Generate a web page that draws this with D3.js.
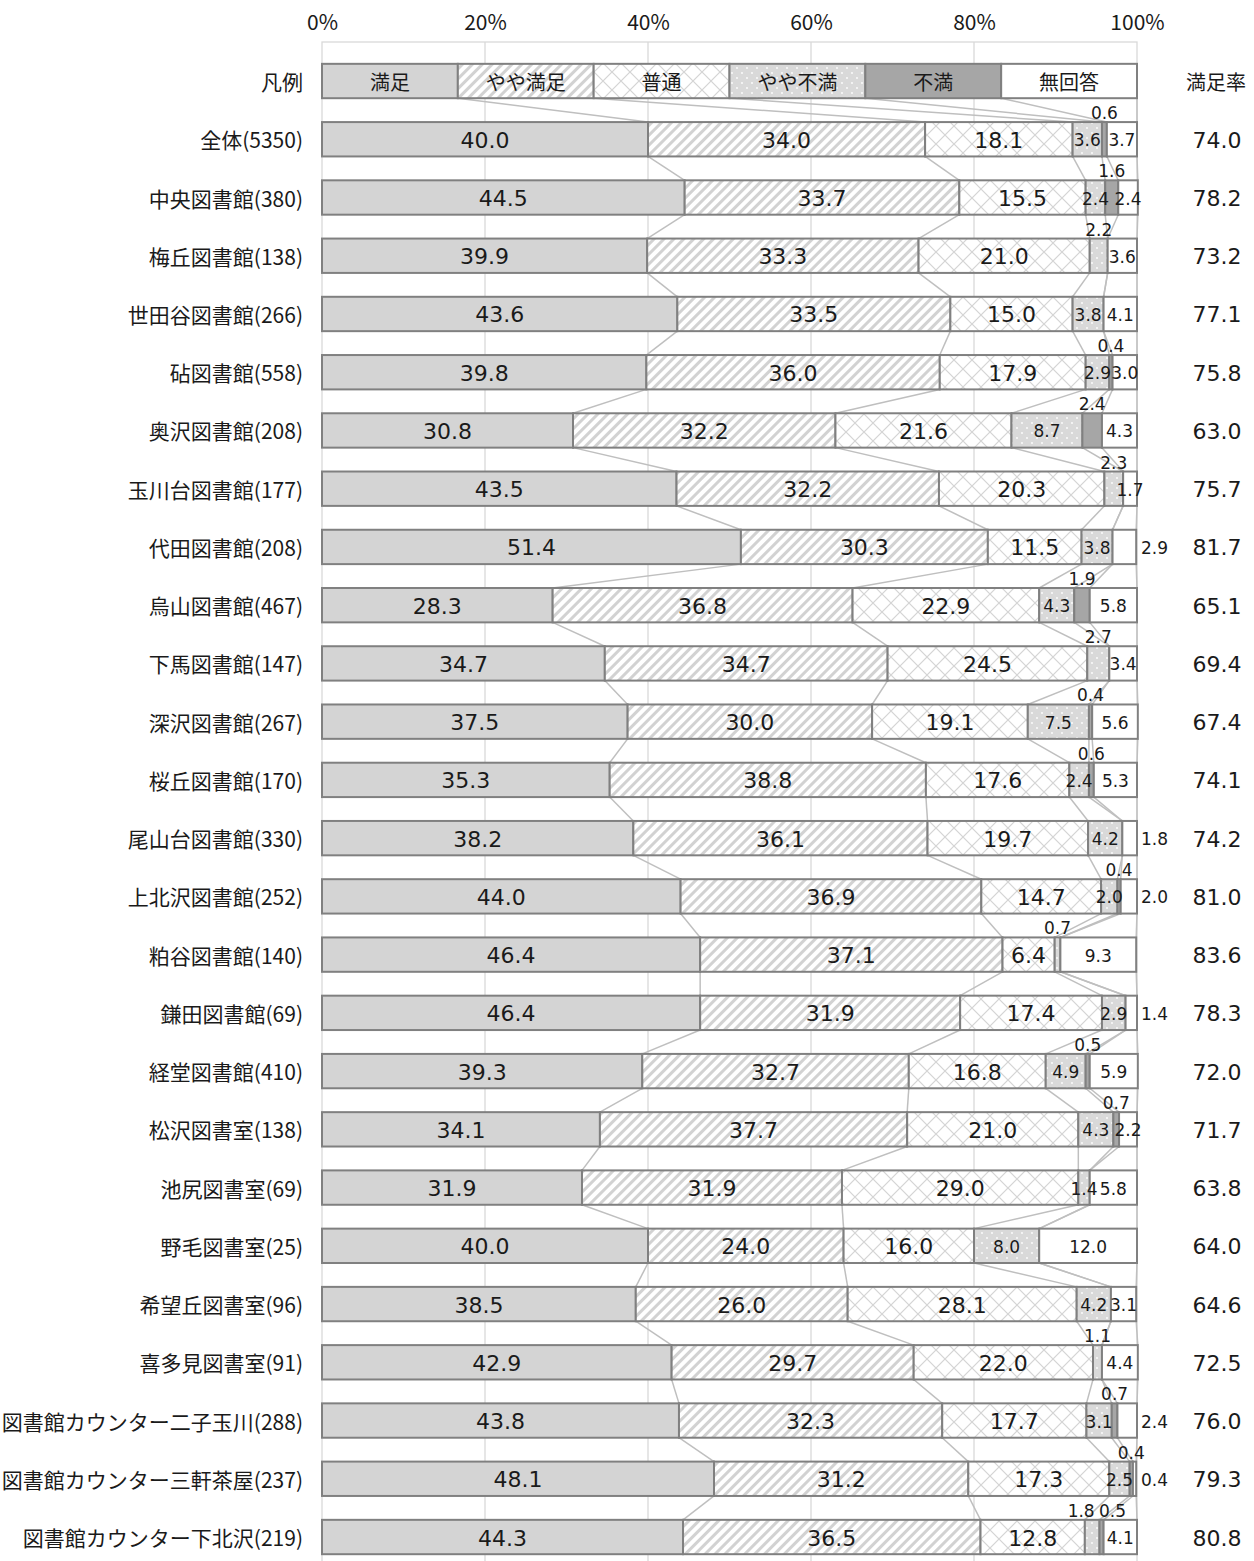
<!DOCTYPE html>
<html>
<head>
<meta charset="utf-8">
<script src="https://cdn.jsdelivr.net/npm/d3@7"></script>
<style>
  body { margin: 0; background: #fff; }
  .jp { font-family: "Noto Sans CJK JP", "Noto Sans", sans-serif; fill: #1a1a1a; }
  .num { font-family: "DejaVu Sans", Verdana, sans-serif; fill: #1a1a1a; }
</style>
</head>
<body>
<svg width="1254" height="1561"></svg>
<script>
// categories (top to bottom) and the six answer series, in %
var categories = ["全体(5350)", "中央図書館(380)", "梅丘図書館(138)", "世田谷図書館(266)", "砧図書館(558)",
  "奥沢図書館(208)", "玉川台図書館(177)", "代田図書館(208)", "烏山図書館(467)", "下馬図書館(147)",
  "深沢図書館(267)", "桜丘図書館(170)", "尾山台図書館(330)", "上北沢図書館(252)", "粕谷図書館(140)",
  "鎌田図書館(69)", "経堂図書館(410)", "松沢図書室(138)", "池尻図書室(69)", "野毛図書室(25)",
  "希望丘図書室(96)", "喜多見図書室(91)", "図書館カウンター二子玉川(288)", "図書館カウンター三軒茶屋(237)",
  "図書館カウンター下北沢(219)"];
var seriesNames = ["満足", "やや満足", "普通", "やや不満", "不満", "無回答"];

var manzoku      = [40.0, 44.5, 39.9, 43.6, 39.8, 30.8, 43.5, 51.4, 28.3, 34.7, 37.5, 35.3, 38.2, 44.0, 46.4, 46.4, 39.3, 34.1, 31.9, 40.0, 38.5, 42.9, 43.8, 48.1, 44.3];
var yayaManzoku  = [34.0, 33.7, 33.3, 33.5, 36.0, 32.2, 32.2, 30.3, 36.8, 34.7, 30.0, 38.8, 36.1, 36.9, 37.1, 31.9, 32.7, 37.7, 31.9, 24.0, 26.0, 29.7, 32.3, 31.2, 36.5];
var futsu        = [18.1, 15.5, 21.0, 15.0, 17.9, 21.6, 20.3, 11.5, 22.9, 24.5, 19.1, 17.6, 19.7, 14.7, 6.4, 17.4, 16.8, 21.0, 29.0, 16.0, 28.1, 22.0, 17.7, 17.3, 12.8];
var yayaFuman    = [3.6, 2.4, 2.2, 3.8, 2.9, 8.7, 2.3, 3.8, 4.3, 2.7, 7.5, 2.4, 4.2, 2.0, 0.7, 2.9, 4.9, 4.3, 1.4, 8.0, 4.2, 1.1, 3.1, 2.5, 1.8];
var fuman        = [0.6, 1.6, 0, 0, 0.4, 2.4, 0, 0, 1.9, 0, 0.4, 0.6, 0, 0.4, 0, 0, 0.5, 0.7, 0, 0, 0, 0, 0.7, 0.4, 0.5];
var mukaitou     = [3.7, 2.4, 3.6, 4.1, 3.0, 4.3, 1.7, 2.9, 5.8, 3.4, 5.6, 5.3, 1.8, 2.0, 9.3, 1.4, 5.9, 2.2, 5.8, 12.0, 3.1, 4.4, 2.4, 0.4, 4.1];
var satisfaction = [74.0, 78.2, 73.2, 77.1, 75.8, 63.0, 75.7, 81.7, 65.1, 69.4, 67.4, 74.1, 74.2, 81.0, 83.6, 78.3, 72.0, 71.7, 63.8, 64.0, 64.6, 72.5, 76.0, 79.3, 80.8];
var tickValues = [0, 20, 40, 60, 80, 100];

// labels of small segments that sit above the bar / right of the bar: [category, series]
var labelsAbove = [[0,4],[1,4],[2,3],[4,4],[5,4],[6,3],[8,4],[9,3],[10,4],[11,4],[13,4],[14,3],[16,4],[17,4],[21,3],[22,4],[23,4],[24,3],[24,4]];
var labelsRight = [[7,5],[12,5],[13,5],[15,5],[22,5],[23,5]];

var series = [manzoku, yayaManzoku, futsu, yayaFuman, fuman, mukaitou];

var svg = d3.select("svg");

// patterns
var defs = svg.append("defs");
var p1 = defs.append("pattern").attr("id", "stripe").attr("patternUnits", "userSpaceOnUse")
    .attr("width", 7).attr("height", 7).attr("patternTransform", "rotate(45)");
p1.append("rect").attr("width", 7).attr("height", 7).attr("fill", "#fff");
p1.append("rect").attr("width", 3).attr("height", 7).attr("fill", "#d2d2d2");

var p2 = defs.append("pattern").attr("id", "cross").attr("patternUnits", "userSpaceOnUse")
    .attr("width", 18).attr("height", 18);
p2.append("rect").attr("width", 18).attr("height", 18).attr("fill", "#fff");
p2.append("path").attr("d", "M0,0L18,18M18,0L0,18").attr("stroke", "#d4d4d4").attr("stroke-width", 1.2);

var p3 = defs.append("pattern").attr("id", "dots").attr("patternUnits", "userSpaceOnUse")
    .attr("width", 10).attr("height", 10);
p3.append("rect").attr("width", 10).attr("height", 10).attr("fill", "#d9d9d9");
p3.append("circle").attr("cx", 2).attr("cy", 3).attr("r", 0.9).attr("fill", "#fff");
p3.append("circle").attr("cx", 7).attr("cy", 8).attr("r", 0.9).attr("fill", "#fff");

var fills = ["#d4d4d4", "url(#stripe)", "url(#cross)", "url(#dots)", "#a6a6a6", "#fff"];

// scales
var x = d3.scaleLinear().domain([0, 100]).range([322, 1137]);
var rows = ["凡例"].concat(categories);
var y = d3.scaleBand().domain(rows)
    .range([51.9, 51.9 + rows.length * 58.24])
    .paddingInner(0.41).paddingOuter(0.205);
var bh = y.bandwidth();

// plot area and gridlines
svg.append("rect").attr("x", x(0)).attr("y", 42).attr("width", x(100) - x(0)).attr("height", 1530)
    .attr("fill", "none").attr("stroke", "#d9d9d9").attr("stroke-width", 1.3);
svg.append("g").selectAll("line").data(tickValues.slice(1, -1)).enter().append("line")
    .attr("x1", function(d) { return x(d); }).attr("x2", function(d) { return x(d); })
    .attr("y1", 42).attr("y2", 1561)
    .attr("stroke", "#d9d9d9").attr("stroke-width", 1.3);

// top axis
var ax = svg.append("g").attr("transform", "translate(0,30)")
    .call(d3.axisTop(x).tickValues(tickValues).tickSize(0).tickPadding(0).tickFormat(function(d) { return d + "%"; }));
ax.select(".domain").remove();
ax.selectAll("text").attr("class", "jp").style("font-size", "21px").attr("fill", "#1a1a1a");

// stacked rows: legend row first (equal widths), then data
var stacked = [];
var legendVals = seriesNames.map(function() { return 100 / 6; });
rows.forEach(function(r, i) {
  var vals = i === 0 ? legendVals : series.map(function(s) { return s[i - 1]; });
  var acc = 0;
  var segs = vals.map(function(v, k) {
    var s = { row: r, ri: i, k: k, v: v, x0: acc, x1: acc + v };
    acc += v;
    return s;
  });
  stacked.push(segs);
});

// series lines between consecutive rows
var lineData = [];
for (var i = 0; i < stacked.length - 1; i++) {
  for (var k = 0; k < 6; k++) {
    lineData.push({ a: stacked[i][k].x1, b: stacked[i + 1][k].x1, r0: rows[i], r1: rows[i + 1] });
  }
}
svg.append("g").selectAll("line").data(lineData).enter().append("line")
    .attr("x1", function(d) { return x(d.a); })
    .attr("x2", function(d) { return x(d.b); })
    .attr("y1", function(d) { return y(d.r0) + bh; })
    .attr("y2", function(d) { return y(d.r1); })
    .attr("stroke", "#bfbfbf").attr("stroke-width", 1.5);

// bars
var allSegs = [].concat.apply([], stacked);
svg.append("g").selectAll("rect").data(allSegs.filter(function(d) { return d.v > 0; })).enter().append("rect")
    .attr("x", function(d) { return x(d.x0); })
    .attr("y", function(d) { return y(d.row); })
    .attr("width", function(d) { return x(d.x1) - x(d.x0); })
    .attr("height", bh)
    .attr("fill", function(d) { return fills[d.k]; })
    .attr("stroke", "#808080").attr("stroke-width", 2);

// legend texts
svg.append("g").selectAll("text").data(stacked[0]).enter().append("text")
    .attr("class", "jp")
    .attr("x", function(d) { return x((d.x0 + d.x1) / 2); })
    .attr("y", y("凡例") + bh / 2)
    .attr("text-anchor", "middle").attr("dominant-baseline", "central")
    .style("font-size", "20px")
    .text(function(d) { return seriesNames[d.k]; });

// data labels
function place(d) {
  var c = d.ri - 1;
  var isIn = function(list) { return list.some(function(p) { return p[0] === c && p[1] === d.k; }); };
  if (isIn(labelsAbove)) return "above";
  if (isIn(labelsRight)) return "right";
  return "in";
}
var labelSegs = allSegs.filter(function(d) { return d.ri > 0 && d.v > 0; });
svg.append("g").selectAll("text").data(labelSegs).enter().append("text")
    .attr("class", "num")
    .style("font-size", function(d) { return d.k < 3 ? "22px" : "17px"; })
    .attr("x", function(d) {
      var p = place(d);
      if (p === "right") return x(100) + 4;
      var cx = x((d.x0 + d.x1) / 2);
      // two labels above the same bar are pushed apart
      if (p === "above" && d.ri === 25) return d.k === 3 ? cx - 11 : cx + 11;
      return cx;
    })
    .attr("y", function(d) {
      var p = place(d);
      if (p === "above") return y(d.row) - 3;
      return y(d.row) + bh / 2 + 1;
    })
    .attr("text-anchor", function(d) { return place(d) === "right" ? "start" : "middle"; })
    .attr("dominant-baseline", function(d) { return place(d) === "above" ? "auto" : "central"; })
    .text(function(d) { return d.v.toFixed(1); });

// category labels
svg.append("g").selectAll("text").data(rows).enter().append("text")
    .attr("class", "jp")
    .attr("x", 303)
    .attr("y", function(d) { return y(d) + bh / 2; })
    .attr("text-anchor", "end").attr("dominant-baseline", "central")
    .style("font-size", "21px")
    .text(function(d) { return d; });

// satisfaction rate column
svg.append("text").attr("class", "jp")
    .attr("x", 1216).attr("y", y("凡例") + bh / 2)
    .attr("text-anchor", "middle").attr("dominant-baseline", "central")
    .style("font-size", "20px").text("満足率");
svg.append("g").selectAll("text").data(satisfaction).enter().append("text")
    .attr("class", "num")
    .attr("x", 1217)
    .attr("y", function(d, i) { return y(categories[i]) + bh / 2 + 1; })
    .attr("text-anchor", "middle").attr("dominant-baseline", "central")
    .style("font-size", "22px")
    .text(function(d) { return d.toFixed(1); });
</script>
</body>
</html>
